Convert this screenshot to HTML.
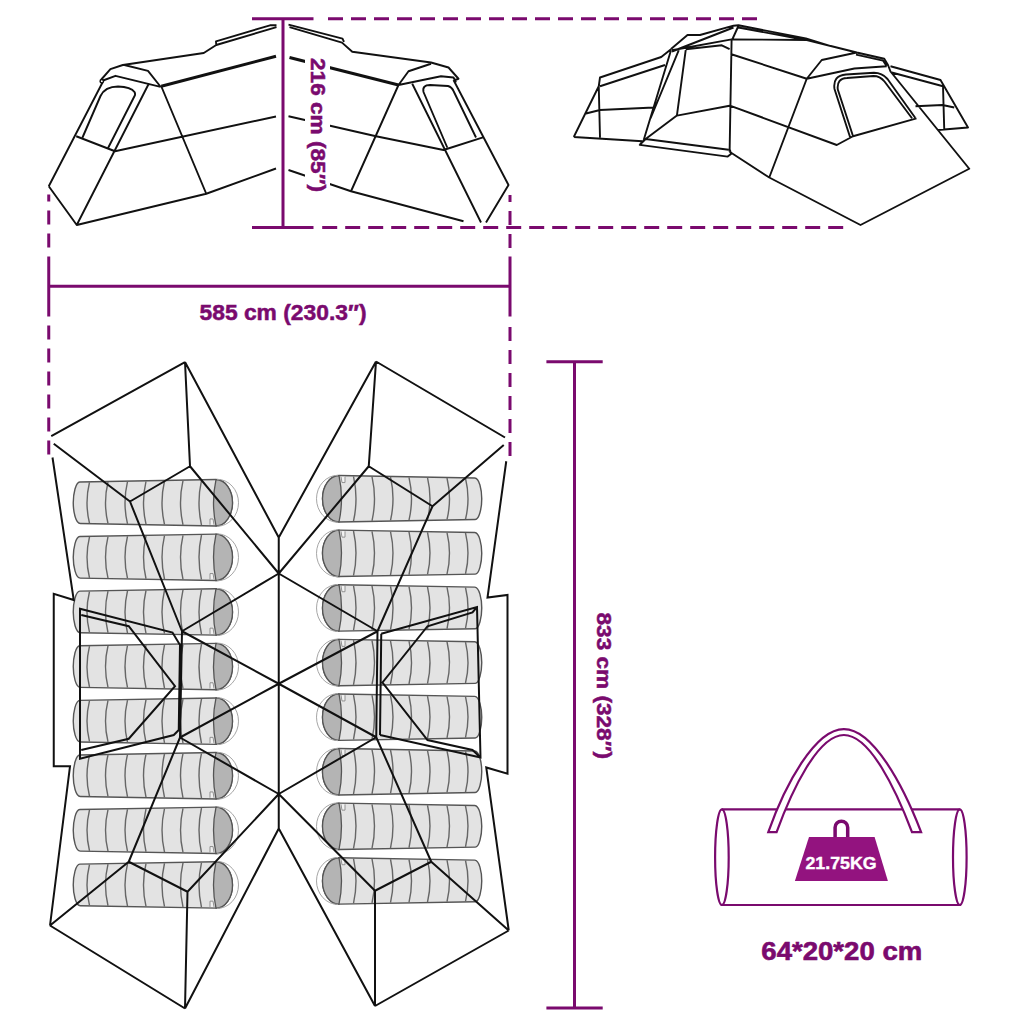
<!DOCTYPE html>
<html><head><meta charset="utf-8"><style>
html,body{margin:0;padding:0;background:#fff;width:1024px;height:1024px;overflow:hidden}
svg{display:block}
text{font-family:"Liberation Sans",sans-serif}
</style></head><body>
<svg width="1024" height="1024" viewBox="0 0 1024 1024">
<rect width="1024" height="1024" fill="#fff"/>
<g><path d="M79.75,481.95 L216.0,479.55 A16.5,23.2 0 0 1 216.0,525.95 L80.25,523.55 C75.75,523.55 73.25,511.75 73.25,502.75 C73.25,493.75 75.75,481.95 79.75,481.95 Z" fill="#e3e3e3" stroke="#555" stroke-width="1.4"/>
<path d="M216.0,479.55 A16.5,23.2 0 0 1 216.0,525.95 Q211.0,502.75 216.0,479.55 Z" fill="#b4b4b4" stroke="#555" stroke-width="1.3"/>
<path d="M217.0,479.25 A21.5,23.5 0 0 1 217.0,526.25" fill="none" stroke="#a6a6a6" stroke-width="1"/>
<path d="M89.50,482.28 Q84.50,502.75 89.50,523.22" fill="none" stroke="#666" stroke-width="1.4"/>
<path d="M108.00,481.97 Q103.00,502.75 108.00,523.53" fill="none" stroke="#666" stroke-width="1.4"/>
<path d="M127.50,481.64 Q122.50,502.75 127.50,523.86" fill="none" stroke="#666" stroke-width="1.4"/>
<path d="M146.00,481.33 Q141.00,502.75 146.00,524.17" fill="none" stroke="#666" stroke-width="1.4"/>
<path d="M164.50,481.02 Q159.50,502.75 164.50,524.48" fill="none" stroke="#666" stroke-width="1.4"/>
<path d="M183.00,480.71 Q178.00,502.75 183.00,524.79" fill="none" stroke="#666" stroke-width="1.4"/>
<path d="M201.50,480.39 Q196.50,502.75 201.50,525.11" fill="none" stroke="#666" stroke-width="1.4"/>
<path d="M210.0,524.75 L210.0,518.95 L213.0,518.95 L214.0,524.75" fill="#f2f2f2" stroke="#888" stroke-width="0.9"/>
<path d="M79.75,536.5500000000001 L216.0,534.15 A16.5,23.2 0 0 1 216.0,580.5500000000001 L80.25,578.15 C75.75,578.15 73.25,566.35 73.25,557.35 C73.25,548.35 75.75,536.5500000000001 79.75,536.5500000000001 Z" fill="#e3e3e3" stroke="#555" stroke-width="1.4"/>
<path d="M216.0,534.15 A16.5,23.2 0 0 1 216.0,580.5500000000001 Q211.0,557.35 216.0,534.15 Z" fill="#b4b4b4" stroke="#555" stroke-width="1.3"/>
<path d="M217.0,533.85 A21.5,23.5 0 0 1 217.0,580.85" fill="none" stroke="#a6a6a6" stroke-width="1"/>
<path d="M89.50,536.88 Q84.50,557.35 89.50,577.82" fill="none" stroke="#666" stroke-width="1.4"/>
<path d="M108.00,536.57 Q103.00,557.35 108.00,578.13" fill="none" stroke="#666" stroke-width="1.4"/>
<path d="M127.50,536.24 Q122.50,557.35 127.50,578.46" fill="none" stroke="#666" stroke-width="1.4"/>
<path d="M146.00,535.93 Q141.00,557.35 146.00,578.77" fill="none" stroke="#666" stroke-width="1.4"/>
<path d="M164.50,535.62 Q159.50,557.35 164.50,579.08" fill="none" stroke="#666" stroke-width="1.4"/>
<path d="M183.00,535.31 Q178.00,557.35 183.00,579.39" fill="none" stroke="#666" stroke-width="1.4"/>
<path d="M201.50,534.99 Q196.50,557.35 201.50,579.71" fill="none" stroke="#666" stroke-width="1.4"/>
<path d="M210.0,579.35 L210.0,573.5500000000001 L213.0,573.5500000000001 L214.0,579.35" fill="#f2f2f2" stroke="#888" stroke-width="0.9"/>
<path d="M79.75,591.1500000000001 L216.0,588.75 A16.5,23.2 0 0 1 216.0,635.1500000000001 L80.25,632.75 C75.75,632.75 73.25,620.95 73.25,611.95 C73.25,602.95 75.75,591.1500000000001 79.75,591.1500000000001 Z" fill="#e3e3e3" stroke="#555" stroke-width="1.4"/>
<path d="M216.0,588.75 A16.5,23.2 0 0 1 216.0,635.1500000000001 Q211.0,611.95 216.0,588.75 Z" fill="#b4b4b4" stroke="#555" stroke-width="1.3"/>
<path d="M217.0,588.45 A21.5,23.5 0 0 1 217.0,635.45" fill="none" stroke="#a6a6a6" stroke-width="1"/>
<path d="M89.50,591.48 Q84.50,611.95 89.50,632.42" fill="none" stroke="#666" stroke-width="1.4"/>
<path d="M108.00,591.17 Q103.00,611.95 108.00,632.73" fill="none" stroke="#666" stroke-width="1.4"/>
<path d="M127.50,590.84 Q122.50,611.95 127.50,633.06" fill="none" stroke="#666" stroke-width="1.4"/>
<path d="M146.00,590.53 Q141.00,611.95 146.00,633.37" fill="none" stroke="#666" stroke-width="1.4"/>
<path d="M164.50,590.22 Q159.50,611.95 164.50,633.68" fill="none" stroke="#666" stroke-width="1.4"/>
<path d="M183.00,589.91 Q178.00,611.95 183.00,633.99" fill="none" stroke="#666" stroke-width="1.4"/>
<path d="M201.50,589.59 Q196.50,611.95 201.50,634.31" fill="none" stroke="#666" stroke-width="1.4"/>
<path d="M210.0,633.95 L210.0,628.1500000000001 L213.0,628.1500000000001 L214.0,633.95" fill="#f2f2f2" stroke="#888" stroke-width="0.9"/>
<path d="M79.75,645.75 L216.0,643.3499999999999 A16.5,23.2 0 0 1 216.0,689.75 L80.25,687.3499999999999 C75.75,687.3499999999999 73.25,675.55 73.25,666.55 C73.25,657.55 75.75,645.75 79.75,645.75 Z" fill="#e3e3e3" stroke="#555" stroke-width="1.4"/>
<path d="M216.0,643.3499999999999 A16.5,23.2 0 0 1 216.0,689.75 Q211.0,666.55 216.0,643.3499999999999 Z" fill="#b4b4b4" stroke="#555" stroke-width="1.3"/>
<path d="M217.0,643.05 A21.5,23.5 0 0 1 217.0,690.05" fill="none" stroke="#a6a6a6" stroke-width="1"/>
<path d="M89.50,646.08 Q84.50,666.55 89.50,687.02" fill="none" stroke="#666" stroke-width="1.4"/>
<path d="M108.00,645.77 Q103.00,666.55 108.00,687.33" fill="none" stroke="#666" stroke-width="1.4"/>
<path d="M127.50,645.44 Q122.50,666.55 127.50,687.66" fill="none" stroke="#666" stroke-width="1.4"/>
<path d="M146.00,645.13 Q141.00,666.55 146.00,687.97" fill="none" stroke="#666" stroke-width="1.4"/>
<path d="M164.50,644.82 Q159.50,666.55 164.50,688.28" fill="none" stroke="#666" stroke-width="1.4"/>
<path d="M183.00,644.51 Q178.00,666.55 183.00,688.59" fill="none" stroke="#666" stroke-width="1.4"/>
<path d="M201.50,644.19 Q196.50,666.55 201.50,688.91" fill="none" stroke="#666" stroke-width="1.4"/>
<path d="M210.0,688.55 L210.0,682.75 L213.0,682.75 L214.0,688.55" fill="#f2f2f2" stroke="#888" stroke-width="0.9"/>
<path d="M79.75,700.35 L216.0,697.9499999999999 A16.5,23.2 0 0 1 216.0,744.35 L80.25,741.9499999999999 C75.75,741.9499999999999 73.25,730.15 73.25,721.15 C73.25,712.15 75.75,700.35 79.75,700.35 Z" fill="#e3e3e3" stroke="#555" stroke-width="1.4"/>
<path d="M216.0,697.9499999999999 A16.5,23.2 0 0 1 216.0,744.35 Q211.0,721.15 216.0,697.9499999999999 Z" fill="#b4b4b4" stroke="#555" stroke-width="1.3"/>
<path d="M217.0,697.65 A21.5,23.5 0 0 1 217.0,744.65" fill="none" stroke="#a6a6a6" stroke-width="1"/>
<path d="M89.50,700.68 Q84.50,721.15 89.50,741.62" fill="none" stroke="#666" stroke-width="1.4"/>
<path d="M108.00,700.37 Q103.00,721.15 108.00,741.93" fill="none" stroke="#666" stroke-width="1.4"/>
<path d="M127.50,700.04 Q122.50,721.15 127.50,742.26" fill="none" stroke="#666" stroke-width="1.4"/>
<path d="M146.00,699.73 Q141.00,721.15 146.00,742.57" fill="none" stroke="#666" stroke-width="1.4"/>
<path d="M164.50,699.42 Q159.50,721.15 164.50,742.88" fill="none" stroke="#666" stroke-width="1.4"/>
<path d="M183.00,699.11 Q178.00,721.15 183.00,743.19" fill="none" stroke="#666" stroke-width="1.4"/>
<path d="M201.50,698.79 Q196.50,721.15 201.50,743.51" fill="none" stroke="#666" stroke-width="1.4"/>
<path d="M210.0,743.15 L210.0,737.35 L213.0,737.35 L214.0,743.15" fill="#f2f2f2" stroke="#888" stroke-width="0.9"/>
<path d="M79.75,754.95 L216.0,752.55 A16.5,23.2 0 0 1 216.0,798.95 L80.25,796.55 C75.75,796.55 73.25,784.75 73.25,775.75 C73.25,766.75 75.75,754.95 79.75,754.95 Z" fill="#e3e3e3" stroke="#555" stroke-width="1.4"/>
<path d="M216.0,752.55 A16.5,23.2 0 0 1 216.0,798.95 Q211.0,775.75 216.0,752.55 Z" fill="#b4b4b4" stroke="#555" stroke-width="1.3"/>
<path d="M217.0,752.25 A21.5,23.5 0 0 1 217.0,799.25" fill="none" stroke="#a6a6a6" stroke-width="1"/>
<path d="M89.50,755.28 Q84.50,775.75 89.50,796.22" fill="none" stroke="#666" stroke-width="1.4"/>
<path d="M108.00,754.97 Q103.00,775.75 108.00,796.53" fill="none" stroke="#666" stroke-width="1.4"/>
<path d="M127.50,754.64 Q122.50,775.75 127.50,796.86" fill="none" stroke="#666" stroke-width="1.4"/>
<path d="M146.00,754.33 Q141.00,775.75 146.00,797.17" fill="none" stroke="#666" stroke-width="1.4"/>
<path d="M164.50,754.02 Q159.50,775.75 164.50,797.48" fill="none" stroke="#666" stroke-width="1.4"/>
<path d="M183.00,753.71 Q178.00,775.75 183.00,797.79" fill="none" stroke="#666" stroke-width="1.4"/>
<path d="M201.50,753.39 Q196.50,775.75 201.50,798.11" fill="none" stroke="#666" stroke-width="1.4"/>
<path d="M210.0,797.75 L210.0,791.95 L213.0,791.95 L214.0,797.75" fill="#f2f2f2" stroke="#888" stroke-width="0.9"/>
<path d="M79.75,809.5500000000001 L216.0,807.15 A16.5,23.2 0 0 1 216.0,853.5500000000001 L80.25,851.15 C75.75,851.15 73.25,839.35 73.25,830.35 C73.25,821.35 75.75,809.5500000000001 79.75,809.5500000000001 Z" fill="#e3e3e3" stroke="#555" stroke-width="1.4"/>
<path d="M216.0,807.15 A16.5,23.2 0 0 1 216.0,853.5500000000001 Q211.0,830.35 216.0,807.15 Z" fill="#b4b4b4" stroke="#555" stroke-width="1.3"/>
<path d="M217.0,806.85 A21.5,23.5 0 0 1 217.0,853.85" fill="none" stroke="#a6a6a6" stroke-width="1"/>
<path d="M89.50,809.88 Q84.50,830.35 89.50,850.82" fill="none" stroke="#666" stroke-width="1.4"/>
<path d="M108.00,809.57 Q103.00,830.35 108.00,851.13" fill="none" stroke="#666" stroke-width="1.4"/>
<path d="M127.50,809.24 Q122.50,830.35 127.50,851.46" fill="none" stroke="#666" stroke-width="1.4"/>
<path d="M146.00,808.93 Q141.00,830.35 146.00,851.77" fill="none" stroke="#666" stroke-width="1.4"/>
<path d="M164.50,808.62 Q159.50,830.35 164.50,852.08" fill="none" stroke="#666" stroke-width="1.4"/>
<path d="M183.00,808.31 Q178.00,830.35 183.00,852.39" fill="none" stroke="#666" stroke-width="1.4"/>
<path d="M201.50,807.99 Q196.50,830.35 201.50,852.71" fill="none" stroke="#666" stroke-width="1.4"/>
<path d="M210.0,852.35 L210.0,846.5500000000001 L213.0,846.5500000000001 L214.0,852.35" fill="#f2f2f2" stroke="#888" stroke-width="0.9"/>
<path d="M79.75,864.1500000000001 L216.0,861.75 A16.5,23.2 0 0 1 216.0,908.1500000000001 L80.25,905.75 C75.75,905.75 73.25,893.95 73.25,884.95 C73.25,875.95 75.75,864.1500000000001 79.75,864.1500000000001 Z" fill="#e3e3e3" stroke="#555" stroke-width="1.4"/>
<path d="M216.0,861.75 A16.5,23.2 0 0 1 216.0,908.1500000000001 Q211.0,884.95 216.0,861.75 Z" fill="#b4b4b4" stroke="#555" stroke-width="1.3"/>
<path d="M217.0,861.45 A21.5,23.5 0 0 1 217.0,908.45" fill="none" stroke="#a6a6a6" stroke-width="1"/>
<path d="M89.50,864.48 Q84.50,884.95 89.50,905.42" fill="none" stroke="#666" stroke-width="1.4"/>
<path d="M108.00,864.17 Q103.00,884.95 108.00,905.73" fill="none" stroke="#666" stroke-width="1.4"/>
<path d="M127.50,863.84 Q122.50,884.95 127.50,906.06" fill="none" stroke="#666" stroke-width="1.4"/>
<path d="M146.00,863.53 Q141.00,884.95 146.00,906.37" fill="none" stroke="#666" stroke-width="1.4"/>
<path d="M164.50,863.22 Q159.50,884.95 164.50,906.68" fill="none" stroke="#666" stroke-width="1.4"/>
<path d="M183.00,862.91 Q178.00,884.95 183.00,906.99" fill="none" stroke="#666" stroke-width="1.4"/>
<path d="M201.50,862.59 Q196.50,884.95 201.50,907.31" fill="none" stroke="#666" stroke-width="1.4"/>
<path d="M210.0,906.95 L210.0,901.1500000000001 L213.0,901.1500000000001 L214.0,906.95" fill="#f2f2f2" stroke="#888" stroke-width="0.9"/></g>
<g transform="rotate(180 277.5 691.85)"><path d="M79.75,481.95 L216.0,479.55 A16.5,23.2 0 0 1 216.0,525.95 L80.25,523.55 C75.75,523.55 73.25,511.75 73.25,502.75 C73.25,493.75 75.75,481.95 79.75,481.95 Z" fill="#e3e3e3" stroke="#555" stroke-width="1.4"/>
<path d="M216.0,479.55 A16.5,23.2 0 0 1 216.0,525.95 Q211.0,502.75 216.0,479.55 Z" fill="#b4b4b4" stroke="#555" stroke-width="1.3"/>
<path d="M217.0,479.25 A21.5,23.5 0 0 1 217.0,526.25" fill="none" stroke="#a6a6a6" stroke-width="1"/>
<path d="M89.50,482.28 Q84.50,502.75 89.50,523.22" fill="none" stroke="#666" stroke-width="1.4"/>
<path d="M108.00,481.97 Q103.00,502.75 108.00,523.53" fill="none" stroke="#666" stroke-width="1.4"/>
<path d="M127.50,481.64 Q122.50,502.75 127.50,523.86" fill="none" stroke="#666" stroke-width="1.4"/>
<path d="M146.00,481.33 Q141.00,502.75 146.00,524.17" fill="none" stroke="#666" stroke-width="1.4"/>
<path d="M164.50,481.02 Q159.50,502.75 164.50,524.48" fill="none" stroke="#666" stroke-width="1.4"/>
<path d="M183.00,480.71 Q178.00,502.75 183.00,524.79" fill="none" stroke="#666" stroke-width="1.4"/>
<path d="M201.50,480.39 Q196.50,502.75 201.50,525.11" fill="none" stroke="#666" stroke-width="1.4"/>
<path d="M210.0,524.75 L210.0,518.95 L213.0,518.95 L214.0,524.75" fill="#f2f2f2" stroke="#888" stroke-width="0.9"/>
<path d="M79.75,536.5500000000001 L216.0,534.15 A16.5,23.2 0 0 1 216.0,580.5500000000001 L80.25,578.15 C75.75,578.15 73.25,566.35 73.25,557.35 C73.25,548.35 75.75,536.5500000000001 79.75,536.5500000000001 Z" fill="#e3e3e3" stroke="#555" stroke-width="1.4"/>
<path d="M216.0,534.15 A16.5,23.2 0 0 1 216.0,580.5500000000001 Q211.0,557.35 216.0,534.15 Z" fill="#b4b4b4" stroke="#555" stroke-width="1.3"/>
<path d="M217.0,533.85 A21.5,23.5 0 0 1 217.0,580.85" fill="none" stroke="#a6a6a6" stroke-width="1"/>
<path d="M89.50,536.88 Q84.50,557.35 89.50,577.82" fill="none" stroke="#666" stroke-width="1.4"/>
<path d="M108.00,536.57 Q103.00,557.35 108.00,578.13" fill="none" stroke="#666" stroke-width="1.4"/>
<path d="M127.50,536.24 Q122.50,557.35 127.50,578.46" fill="none" stroke="#666" stroke-width="1.4"/>
<path d="M146.00,535.93 Q141.00,557.35 146.00,578.77" fill="none" stroke="#666" stroke-width="1.4"/>
<path d="M164.50,535.62 Q159.50,557.35 164.50,579.08" fill="none" stroke="#666" stroke-width="1.4"/>
<path d="M183.00,535.31 Q178.00,557.35 183.00,579.39" fill="none" stroke="#666" stroke-width="1.4"/>
<path d="M201.50,534.99 Q196.50,557.35 201.50,579.71" fill="none" stroke="#666" stroke-width="1.4"/>
<path d="M210.0,579.35 L210.0,573.5500000000001 L213.0,573.5500000000001 L214.0,579.35" fill="#f2f2f2" stroke="#888" stroke-width="0.9"/>
<path d="M79.75,591.1500000000001 L216.0,588.75 A16.5,23.2 0 0 1 216.0,635.1500000000001 L80.25,632.75 C75.75,632.75 73.25,620.95 73.25,611.95 C73.25,602.95 75.75,591.1500000000001 79.75,591.1500000000001 Z" fill="#e3e3e3" stroke="#555" stroke-width="1.4"/>
<path d="M216.0,588.75 A16.5,23.2 0 0 1 216.0,635.1500000000001 Q211.0,611.95 216.0,588.75 Z" fill="#b4b4b4" stroke="#555" stroke-width="1.3"/>
<path d="M217.0,588.45 A21.5,23.5 0 0 1 217.0,635.45" fill="none" stroke="#a6a6a6" stroke-width="1"/>
<path d="M89.50,591.48 Q84.50,611.95 89.50,632.42" fill="none" stroke="#666" stroke-width="1.4"/>
<path d="M108.00,591.17 Q103.00,611.95 108.00,632.73" fill="none" stroke="#666" stroke-width="1.4"/>
<path d="M127.50,590.84 Q122.50,611.95 127.50,633.06" fill="none" stroke="#666" stroke-width="1.4"/>
<path d="M146.00,590.53 Q141.00,611.95 146.00,633.37" fill="none" stroke="#666" stroke-width="1.4"/>
<path d="M164.50,590.22 Q159.50,611.95 164.50,633.68" fill="none" stroke="#666" stroke-width="1.4"/>
<path d="M183.00,589.91 Q178.00,611.95 183.00,633.99" fill="none" stroke="#666" stroke-width="1.4"/>
<path d="M201.50,589.59 Q196.50,611.95 201.50,634.31" fill="none" stroke="#666" stroke-width="1.4"/>
<path d="M210.0,633.95 L210.0,628.1500000000001 L213.0,628.1500000000001 L214.0,633.95" fill="#f2f2f2" stroke="#888" stroke-width="0.9"/>
<path d="M79.75,645.75 L216.0,643.3499999999999 A16.5,23.2 0 0 1 216.0,689.75 L80.25,687.3499999999999 C75.75,687.3499999999999 73.25,675.55 73.25,666.55 C73.25,657.55 75.75,645.75 79.75,645.75 Z" fill="#e3e3e3" stroke="#555" stroke-width="1.4"/>
<path d="M216.0,643.3499999999999 A16.5,23.2 0 0 1 216.0,689.75 Q211.0,666.55 216.0,643.3499999999999 Z" fill="#b4b4b4" stroke="#555" stroke-width="1.3"/>
<path d="M217.0,643.05 A21.5,23.5 0 0 1 217.0,690.05" fill="none" stroke="#a6a6a6" stroke-width="1"/>
<path d="M89.50,646.08 Q84.50,666.55 89.50,687.02" fill="none" stroke="#666" stroke-width="1.4"/>
<path d="M108.00,645.77 Q103.00,666.55 108.00,687.33" fill="none" stroke="#666" stroke-width="1.4"/>
<path d="M127.50,645.44 Q122.50,666.55 127.50,687.66" fill="none" stroke="#666" stroke-width="1.4"/>
<path d="M146.00,645.13 Q141.00,666.55 146.00,687.97" fill="none" stroke="#666" stroke-width="1.4"/>
<path d="M164.50,644.82 Q159.50,666.55 164.50,688.28" fill="none" stroke="#666" stroke-width="1.4"/>
<path d="M183.00,644.51 Q178.00,666.55 183.00,688.59" fill="none" stroke="#666" stroke-width="1.4"/>
<path d="M201.50,644.19 Q196.50,666.55 201.50,688.91" fill="none" stroke="#666" stroke-width="1.4"/>
<path d="M210.0,688.55 L210.0,682.75 L213.0,682.75 L214.0,688.55" fill="#f2f2f2" stroke="#888" stroke-width="0.9"/>
<path d="M79.75,700.35 L216.0,697.9499999999999 A16.5,23.2 0 0 1 216.0,744.35 L80.25,741.9499999999999 C75.75,741.9499999999999 73.25,730.15 73.25,721.15 C73.25,712.15 75.75,700.35 79.75,700.35 Z" fill="#e3e3e3" stroke="#555" stroke-width="1.4"/>
<path d="M216.0,697.9499999999999 A16.5,23.2 0 0 1 216.0,744.35 Q211.0,721.15 216.0,697.9499999999999 Z" fill="#b4b4b4" stroke="#555" stroke-width="1.3"/>
<path d="M217.0,697.65 A21.5,23.5 0 0 1 217.0,744.65" fill="none" stroke="#a6a6a6" stroke-width="1"/>
<path d="M89.50,700.68 Q84.50,721.15 89.50,741.62" fill="none" stroke="#666" stroke-width="1.4"/>
<path d="M108.00,700.37 Q103.00,721.15 108.00,741.93" fill="none" stroke="#666" stroke-width="1.4"/>
<path d="M127.50,700.04 Q122.50,721.15 127.50,742.26" fill="none" stroke="#666" stroke-width="1.4"/>
<path d="M146.00,699.73 Q141.00,721.15 146.00,742.57" fill="none" stroke="#666" stroke-width="1.4"/>
<path d="M164.50,699.42 Q159.50,721.15 164.50,742.88" fill="none" stroke="#666" stroke-width="1.4"/>
<path d="M183.00,699.11 Q178.00,721.15 183.00,743.19" fill="none" stroke="#666" stroke-width="1.4"/>
<path d="M201.50,698.79 Q196.50,721.15 201.50,743.51" fill="none" stroke="#666" stroke-width="1.4"/>
<path d="M210.0,743.15 L210.0,737.35 L213.0,737.35 L214.0,743.15" fill="#f2f2f2" stroke="#888" stroke-width="0.9"/>
<path d="M79.75,754.95 L216.0,752.55 A16.5,23.2 0 0 1 216.0,798.95 L80.25,796.55 C75.75,796.55 73.25,784.75 73.25,775.75 C73.25,766.75 75.75,754.95 79.75,754.95 Z" fill="#e3e3e3" stroke="#555" stroke-width="1.4"/>
<path d="M216.0,752.55 A16.5,23.2 0 0 1 216.0,798.95 Q211.0,775.75 216.0,752.55 Z" fill="#b4b4b4" stroke="#555" stroke-width="1.3"/>
<path d="M217.0,752.25 A21.5,23.5 0 0 1 217.0,799.25" fill="none" stroke="#a6a6a6" stroke-width="1"/>
<path d="M89.50,755.28 Q84.50,775.75 89.50,796.22" fill="none" stroke="#666" stroke-width="1.4"/>
<path d="M108.00,754.97 Q103.00,775.75 108.00,796.53" fill="none" stroke="#666" stroke-width="1.4"/>
<path d="M127.50,754.64 Q122.50,775.75 127.50,796.86" fill="none" stroke="#666" stroke-width="1.4"/>
<path d="M146.00,754.33 Q141.00,775.75 146.00,797.17" fill="none" stroke="#666" stroke-width="1.4"/>
<path d="M164.50,754.02 Q159.50,775.75 164.50,797.48" fill="none" stroke="#666" stroke-width="1.4"/>
<path d="M183.00,753.71 Q178.00,775.75 183.00,797.79" fill="none" stroke="#666" stroke-width="1.4"/>
<path d="M201.50,753.39 Q196.50,775.75 201.50,798.11" fill="none" stroke="#666" stroke-width="1.4"/>
<path d="M210.0,797.75 L210.0,791.95 L213.0,791.95 L214.0,797.75" fill="#f2f2f2" stroke="#888" stroke-width="0.9"/>
<path d="M79.75,809.5500000000001 L216.0,807.15 A16.5,23.2 0 0 1 216.0,853.5500000000001 L80.25,851.15 C75.75,851.15 73.25,839.35 73.25,830.35 C73.25,821.35 75.75,809.5500000000001 79.75,809.5500000000001 Z" fill="#e3e3e3" stroke="#555" stroke-width="1.4"/>
<path d="M216.0,807.15 A16.5,23.2 0 0 1 216.0,853.5500000000001 Q211.0,830.35 216.0,807.15 Z" fill="#b4b4b4" stroke="#555" stroke-width="1.3"/>
<path d="M217.0,806.85 A21.5,23.5 0 0 1 217.0,853.85" fill="none" stroke="#a6a6a6" stroke-width="1"/>
<path d="M89.50,809.88 Q84.50,830.35 89.50,850.82" fill="none" stroke="#666" stroke-width="1.4"/>
<path d="M108.00,809.57 Q103.00,830.35 108.00,851.13" fill="none" stroke="#666" stroke-width="1.4"/>
<path d="M127.50,809.24 Q122.50,830.35 127.50,851.46" fill="none" stroke="#666" stroke-width="1.4"/>
<path d="M146.00,808.93 Q141.00,830.35 146.00,851.77" fill="none" stroke="#666" stroke-width="1.4"/>
<path d="M164.50,808.62 Q159.50,830.35 164.50,852.08" fill="none" stroke="#666" stroke-width="1.4"/>
<path d="M183.00,808.31 Q178.00,830.35 183.00,852.39" fill="none" stroke="#666" stroke-width="1.4"/>
<path d="M201.50,807.99 Q196.50,830.35 201.50,852.71" fill="none" stroke="#666" stroke-width="1.4"/>
<path d="M210.0,852.35 L210.0,846.5500000000001 L213.0,846.5500000000001 L214.0,852.35" fill="#f2f2f2" stroke="#888" stroke-width="0.9"/>
<path d="M79.75,864.1500000000001 L216.0,861.75 A16.5,23.2 0 0 1 216.0,908.1500000000001 L80.25,905.75 C75.75,905.75 73.25,893.95 73.25,884.95 C73.25,875.95 75.75,864.1500000000001 79.75,864.1500000000001 Z" fill="#e3e3e3" stroke="#555" stroke-width="1.4"/>
<path d="M216.0,861.75 A16.5,23.2 0 0 1 216.0,908.1500000000001 Q211.0,884.95 216.0,861.75 Z" fill="#b4b4b4" stroke="#555" stroke-width="1.3"/>
<path d="M217.0,861.45 A21.5,23.5 0 0 1 217.0,908.45" fill="none" stroke="#a6a6a6" stroke-width="1"/>
<path d="M89.50,864.48 Q84.50,884.95 89.50,905.42" fill="none" stroke="#666" stroke-width="1.4"/>
<path d="M108.00,864.17 Q103.00,884.95 108.00,905.73" fill="none" stroke="#666" stroke-width="1.4"/>
<path d="M127.50,863.84 Q122.50,884.95 127.50,906.06" fill="none" stroke="#666" stroke-width="1.4"/>
<path d="M146.00,863.53 Q141.00,884.95 146.00,906.37" fill="none" stroke="#666" stroke-width="1.4"/>
<path d="M164.50,863.22 Q159.50,884.95 164.50,906.68" fill="none" stroke="#666" stroke-width="1.4"/>
<path d="M183.00,862.91 Q178.00,884.95 183.00,906.99" fill="none" stroke="#666" stroke-width="1.4"/>
<path d="M201.50,862.59 Q196.50,884.95 201.50,907.31" fill="none" stroke="#666" stroke-width="1.4"/>
<path d="M210.0,906.95 L210.0,901.1500000000001 L213.0,901.1500000000001 L214.0,906.95" fill="#f2f2f2" stroke="#888" stroke-width="0.9"/></g>
<path d="M185,362 L51.25,436 M185,362 L190,466.25 M185,362 L278.75,537.5 M376,361.5 L505,437.5 M376,361.5 L368.75,466.25 M376,361.5 L278.75,537.5 M130,501.5 L190,466.25 M190,466.25 L278.75,573.5 M368.75,466.25 L278.75,573.5 M432.5,506.25 L368.75,466.25 M278.75,537.5 L278.75,573.5 M278.75,573.5 L278.75,683.75 M278.75,683.75 L278.75,794 M278.75,794 L278.75,828.5 M130,501.5 L182,631.25 M432.5,506.25 L377.5,631.25 M278.75,573.5 L182,631.25 M278.75,573.5 L377.5,631.25 M278.75,683.75 L182,631.25 M278.75,683.75 L377.5,631.25 M278.75,683.75 L180,737.5 M278.75,683.75 L376.25,737.25 M180,737.5 L278.75,794 M376.25,737.25 L278.75,794 M180,737.5 L128.75,861.75 M376.25,737.25 L431.25,861.75 M278.75,794 L187.5,891.75 M278.75,794 L375,890.75 M128.75,861.75 L187.5,891.75 M431.25,861.75 L375,890.75 M50,925.5 L128.75,861.75 M508.75,930.5 L431.25,861.75 M187.5,891.75 L185,1008.5 M375,890.75 L375,1006 M278.75,828.5 L185,1008.5 M278.75,828.5 L375,1006 M50,925.5 L185,1008.5 M508.75,930.5 L375,1006 M182,631.25 L180,737.5 M377.5,631.25 L376.25,737.25 M53.75,443.75 L130,501.5 M503.75,445 L432.5,506.25 M52.5,457.5 L73.75,600 L53.75,593.75 L53.75,766.25 L70,766.25 L50,925.5 M506.25,461.25 L487.5,597.5 L507.5,595 L507.5,773.75 L486.25,767.5 L508.75,930.5 M80,608.75 L172.5,632.5 L180,645 L178.75,730 L173.75,735 L80,758.75 Z M81.25,615 L128.75,626.25 L175,686.25 L128.75,738.75 L81.25,750 M381.25,633.75 L477,607 L480.5,757.5 L380,735 M381.25,633.75 L380,735 M477,607 L472.5,612.5 L427.5,626.25 L382.5,682.5 L427.5,740 L472.5,750 L480.5,757.5" fill="none" stroke="#111" stroke-width="2" stroke-linejoin="miter"/>
<path d="M48.75,186.25 L76.75,225 L206.25,193.75 L276,168.5 M48.75,186.25 L102.5,82.5 M76.75,225 L148.5,84.3 M76.25,136.25 L115,151.25 L276,116.5 M82.5,137.5 L100.5,96 Q105,86.5 118,86.5 Q131,87 134.5,92 Q135.5,94 134.8,95.5 L108.2,147.8 M101.3,79.5 L110.4,69.1 L122.8,65 L203.75,53 L216.25,45 L276.5,27.2 M216.25,45 L216,41.3 L270,25.3 L276.5,25.2 M103,80.5 L115.5,75.8 L160.5,86.8 M124.4,65 L148,70.9 L160.8,87 M161.25,86.25 L206.25,193.75" fill="none" stroke="#111" stroke-width="1.9" stroke-linejoin="round"/>
<circle cx="101.8" cy="81.3" r="1.7" fill="none" stroke="#111" stroke-width="1.5"/>
<path d="M161.25,86.25 L276,56.25" stroke="#111" stroke-width="3"/>
<path d="M288.5,24.6 L342.5,38.6 L344,41.8 M289.5,27.2 L342,42.6 L352.25,51.75 L431,62.5 L448.5,67.5 L458.5,78.75 L455,80 M398.5,85 L408.5,71.25 L431,63.75 M398.5,85 L441,76.25 L453.5,77.5 L456,82.5 M412.25,83.75 L481,222.5 M453.5,80 L508.5,185 L486,222.5 M398.5,85 L351,191.25 L463.5,221.25 M288.5,170 L351,191.25 M288.5,116.25 L376,136.25 L443.5,150 L483,137.3 M447.25,147.5 L423.5,92 Q422,85 430,85 L448,86 Q452,87 454,92 L476,137.5" fill="none" stroke="#111" stroke-width="1.9" stroke-linejoin="round"/>
<path d="M289.5,57.5 L398.5,85" stroke="#111" stroke-width="3"/>
<path d="M573.75,137 L642.5,141.25 L639.8,144.9 M573.75,137 L598.75,86.25 L600,77.5 L661.25,57 L671,49.2 M600,86.25 L665,65 M598.75,86.25 L600,137.5 M585,113.75 L600,110 L653.75,107.5 M671,50.2 L643.7,140 M678.8,50.2 L650.5,118.5 M685.7,50.2 L676.9,115.6 L729.6,105.8 M685.7,49.2 L721.8,45.3 L729.6,49.2 M676.9,115.6 L645.6,139 L728.6,149.8 M645.6,139 L639.8,144.9 L727.7,156.6 L731,154 L730,150 M731.6,39.4 L729.6,151.7 M671,49 L687.5,35 L700,35 L733.5,25.7 L738.4,25.3 L805.8,38.4 L830,46 M672,51.5 L733.5,27.5 M738.4,27.5 L805.8,40 M672,50.2 L731.6,39.4 L806.75,40 L856.75,52.5 M732.5,39 L738.4,26 M730.6,54 L806.75,78.75 M730.6,105.8 L836.75,145 L853,136.25 L916.5,118.3 M729.6,151.7 L769.25,177.5 L860.5,225 L969.25,168.75 L890.5,71.5 L888,65 L884.25,58.75 L856.75,52.5 L821.75,60 L806.75,78.75 L769.25,177.5 M806.75,78.75 L854.4,68.5 L886.75,66.25 M856,54.6 L883,60.6 L886.5,66 M850.2,137.5 L834.5,89 Q832.5,75.5 846,74.5 L874,72.8 Q882,72.8 887.5,79 L915.2,117.8 M853.3,137 L837.8,89.5 Q836.5,78.5 847,78 L873.5,76 Q880,76 884.5,81.5 L912,118.3 M890.5,66.25 L940.5,80 L968,127.5 L938,130 M891.75,72.5 L943,86.25 L944.25,130 M915.5,106.25 L942.5,105 L954.25,107.5" fill="none" stroke="#111" stroke-width="1.9" stroke-linejoin="round"/>
<path d="M283,18.75 L283,227.5 M252,18.75 L313.5,18.75 M252,227.5 L313.5,227.5 M48.75,286.25 L510,286.25 M48.75,256.5 L48.75,316.5 M510,256.5 L510,316.5 M574.5,361.7 L574.5,1008 M546.4,361.7 L602.7,361.7 M546.4,1008 L602.7,1008" stroke="#7a0a6e" stroke-width="3" fill="none"/>
<path d="M328,18.75 L757.5,18.75" stroke="#7a0a6e" stroke-width="3" stroke-dasharray="15 8" fill="none"/>
<path d="M322.2,227.5 L844,227.5" stroke="#7a0a6e" stroke-width="3" stroke-dasharray="15 8" fill="none"/>
<path d="M48.75,194.5 L48.75,248 M510,195 L510,248.3" stroke="#7a0a6e" stroke-width="3" stroke-dasharray="14 9" stroke-dashoffset="7" fill="none"/>
<path d="M48.75,325.5 L48.75,456 M510,327 L510,461" stroke="#7a0a6e" stroke-width="3" stroke-dasharray="14 9" fill="none"/>
<rect x="305" y="56" width="25" height="138" fill="#fff"/>
<text x="0" y="0" transform="translate(310.6,58) rotate(90)" font-family="Liberation Sans" font-weight="bold" font-size="21" fill="#7a0a6e" stroke="#7a0a6e" stroke-width="0.5" textLength="134" lengthAdjust="spacingAndGlyphs">216 cm (85″)</text>
<text x="283" y="320" text-anchor="middle" font-family="Liberation Sans" font-weight="bold" font-size="22" fill="#7a0a6e" stroke="#7a0a6e" stroke-width="0.5" textLength="167" lengthAdjust="spacingAndGlyphs">585 cm (230.3″)</text>
<text x="0" y="0" transform="translate(597,612.5) rotate(90)" font-family="Liberation Sans" font-weight="bold" font-size="21" fill="#7a0a6e" stroke="#7a0a6e" stroke-width="0.5" textLength="146.5" lengthAdjust="spacingAndGlyphs">833 cm (328″)</text>
<path d="M721.9,809.3 L959.8,809.3 M721.9,905 L959.8,905" stroke="#7a0a6e" stroke-width="2.2" fill="none"/>
<ellipse cx="721.9" cy="857.15" rx="6.8" ry="47.85" stroke="#7a0a6e" stroke-width="2.2" fill="none"/>
<ellipse cx="959.8" cy="857.15" rx="6.8" ry="47.85" stroke="#7a0a6e" stroke-width="2.2" fill="none"/>
<path d="M768.3,832.1 C785,785 815,729 843.9,729.1 C873,729 903,785 921.1,832.1 L912,832.1 C896,790 870,735 843.9,735 C818,735 792,790 776.6,832.1 Z" stroke="#7a0a6e" stroke-width="2.2" fill="#fff"/>
<path d="M835.1,838 L835.1,827.5 A6.3,6.2 0 0 1 847.7,827.5 L847.7,838" stroke="#7a0a6e" stroke-width="3.5" fill="none"/>
<path d="M809,837 L874.6,837 L887.9,881 L794.9,881 Z" fill="#93137f"/>
<text x="841" y="869" text-anchor="middle" font-family="Liberation Sans" font-weight="bold" font-size="17" fill="#fff" stroke="#fff" stroke-width="0.4" textLength="71" lengthAdjust="spacingAndGlyphs">21.75KG</text>
<text x="841.8" y="960.2" text-anchor="middle" font-family="Liberation Sans" font-weight="bold" font-size="26" fill="#7a0a6e" stroke="#7a0a6e" stroke-width="0.6" textLength="161" lengthAdjust="spacingAndGlyphs">64*20*20 cm</text>
</svg>
</body></html>
